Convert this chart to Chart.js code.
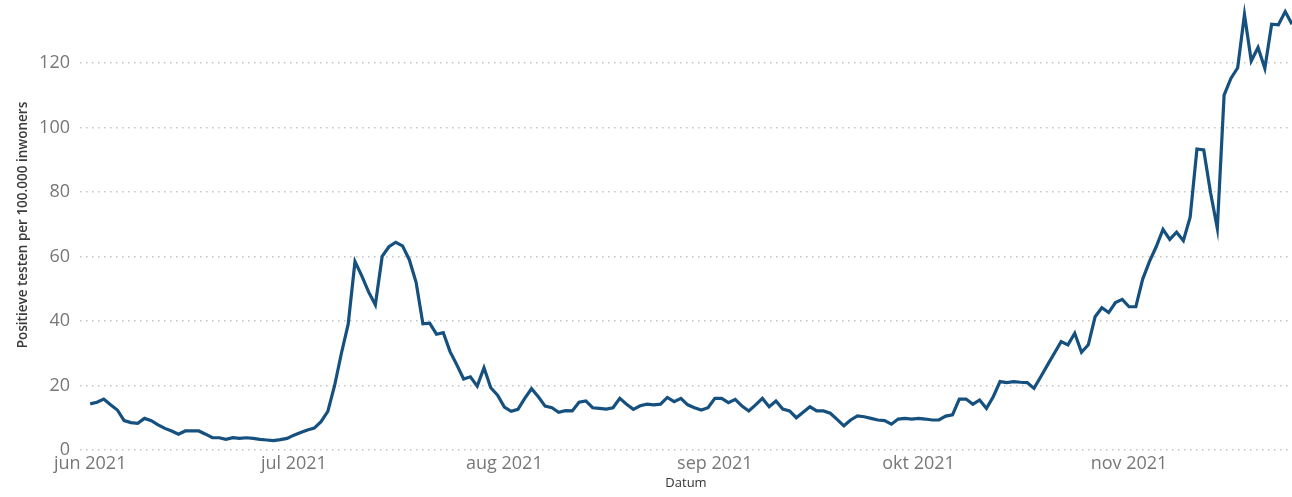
<!DOCTYPE html>
<html>
<head>
<meta charset="utf-8">
<script src="https://cdn.jsdelivr.net/npm/chart.js@4.4.1/dist/chart.umd.min.js"></script>
<style>
html,body{margin:0;padding:0;background:#fff;}
#wrap{width:1292px;height:497px;position:relative;}
</style>
</head>
<body>
<div id="wrap"><canvas id="c"></canvas></div>
<script>
// Day index 0 = 1 jun 2021
const values = [
14.3,14.8,15.8,14.0,12.4,9.1,8.5,8.3,9.8,9.1,
7.8,6.7,5.9,4.9,5.9,5.9,5.9,4.9,3.8,3.8,
3.3,3.8,3.6,3.8,3.6,3.3,3.1,2.9,3.2,3.6,
4.6,5.4,6.2,6.8,8.8,12.0,20.0,30.0,39.0,58.4,
54.0,49.0,45.0,60.0,63.0,64.4,63.3,59.0,52.0,39.1,
39.3,35.9,36.4,30.5,26.4,22.0,22.7,19.8,25.5,19.3,
17.0,13.3,12.0,12.6,16.0,19.0,16.5,13.6,13.1,11.7,
12.2,12.1,14.8,15.2,13.1,12.9,12.7,13.1,16.0,14.2,
12.6,13.7,14.2,14.0,14.2,16.3,15.0,16.0,14.0,13.1,
12.4,13.1,16.0,16.0,14.7,15.7,13.6,12.1,14.0,16.0,
13.4,15.2,12.7,12.1,10.0,11.7,13.4,12.1,12.1,11.4,
9.5,7.5,9.3,10.6,10.3,9.8,9.3,9.1,8.0,9.6,
9.8,9.6,9.8,9.6,9.3,9.3,10.5,10.9,15.8,15.8,
14.2,15.5,12.9,16.5,21.2,20.9,21.2,21.0,20.9,19.1,
22.7,26.4,30.0,33.6,32.6,36.2,30.3,32.6,41.3,44.1,
42.6,45.7,46.7,44.4,44.4,52.9,58.4,63.0,68.4,65.3,
67.5,64.9,72.2,93.3,93.0,79.8,68.7,110.0,115.2,118.5,
135.0,120.6,124.8,118.3,132.0,131.8,135.9,132.0
];
const monthTickDays = [0, 30, 61, 92, 122, 153];
const monthTickLabels = ['jun 2021', 'jul 2021', 'aug 2021', 'sep 2021', 'okt 2021', 'nov 2021'];
const yTicks = [0, 20, 40, 60, 80, 100, 120];

const points = values.map((v, i) => ({x: i, y: v}));

function noPad(scale) {
  scale.paddingTop = 0;
  scale.paddingBottom = 0;
  scale.paddingLeft = 0;
  scale.paddingRight = 0;
}

new Chart(document.getElementById('c'), {
  type: 'line',
  data: {
    datasets: [{
      data: points,
      borderColor: '#15507f',
      borderWidth: 3.2,
      pointRadius: 0,
      tension: 0,
      fill: false
    }]
  },
  options: {
    responsive: true,
    maintainAspectRatio: false,
    animation: false,
    layout: {padding: 0},
    plugins: {legend: {display: false}, tooltip: {enabled: false}},
    scales: {
      x: {
        type: 'linear',
        min: -1.5,
        max: values.length - 1,
        afterFit(scale) { scale.height = 47; noPad(scale); },
        afterBuildTicks(scale) {
          scale.ticks = monthTickDays.map(d => ({value: d}));
        },
        ticks: {
          autoSkip: false,
          maxRotation: 0,
          padding: 3,
          color: '#777777',
          font: {family: 'Open Sans', size: 18},
          callback(value) {
            const i = monthTickDays.indexOf(value);
            return i >= 0 ? monthTickLabels[i] : '';
          }
        },
        grid: {display: false, drawTicks: false},
        border: {display: false},
        title: {
          display: true,
          text: 'Datum',
          color: '#333333',
          font: {family: 'Open Sans', size: 13},
          padding: {top: 0, bottom: 6}
        }
      },
      y: {
        min: 0,
        max: 139.5,
        afterFit(scale) { scale.width = 80; noPad(scale); },
        afterBuildTicks(scale) {
          scale.ticks = yTicks.map(v => ({value: v}));
        },
        ticks: {
          padding: 10,
          color: '#777777',
          font: {family: 'Open Sans', size: 18}
        },
        grid: {
          color: '#c4c4c4',
          lineWidth: 1.5,
          drawTicks: false
        },
        border: {display: false, dash: [1.5, 4.5]},
        title: {
          display: true,
          text: 'Positieve testen per 100.000 inwoners',
          color: '#3a3a3a',
          font: {family: 'Open Sans', size: 13.5, weight: '600'},
          padding: {top: 15.5, bottom: 0}
        }
      }
    }
  }
});
</script>
</body>
</html>
